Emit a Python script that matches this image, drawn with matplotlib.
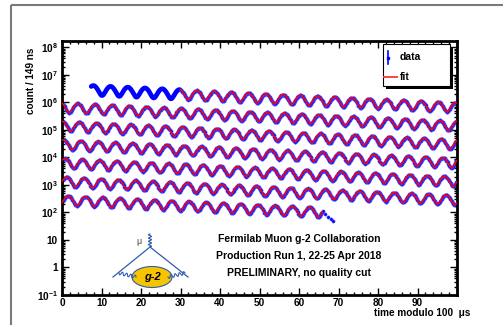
import numpy as np
import matplotlib
matplotlib.use('Agg')
import matplotlib.pyplot as plt
from matplotlib.patches import Rectangle, Ellipse
from matplotlib.ticker import FixedLocator, MultipleLocator, FuncFormatter

plt.rcParams['font.family'] = ['Liberation Sans', 'DejaVu Sans']
plt.rcParams['font.weight'] = 'bold'
plt.rcParams['mathtext.fontset'] = 'custom'
plt.rcParams['mathtext.rm'] = 'Liberation Sans:bold'
plt.rcParams['mathtext.bf'] = 'Liberation Sans:bold'
plt.rcParams['mathtext.default'] = 'rm'

# values (5-parameter wiggle fit)
bin_width = 0.149      # us
wrap = 100.0           # us
data_start = 7.4
fit_start = 30.0
fit_end = 666.0
n0 = 3.34e6
tau = 64.4
asym = 0.38
period = 4.365
phase = 0.18           # fraction of a turn
# last few bins, where the data falls away
tail_t = [666.6, 667.3, 668.0, 668.7]
tail_counts = [85.0, 70.0, 58.0, 48.0]

x_ticks = [0, 10, 20, 30, 40, 50, 60, 70, 80, 90]
y_decades = [-1, 0, 1, 2, 3, 4, 5, 6, 7, 8]


def wiggle(t):
    return n0 * np.exp(-t / tau) * (1 + asym * np.cos(2 * np.pi * (t / period + phase)))


t_data = np.arange(data_start, fit_end, bin_width)
c_data = wiggle(t_data)
t_data = np.concatenate([t_data, tail_t])
c_data = np.concatenate([c_data, tail_counts])
t_fit = np.arange(fit_start, fit_end, 0.05)
c_fit = wiggle(t_fit)

W, H = 503, 325
fig = plt.figure(figsize=(W / 100, H / 100), dpi=100)
ax = fig.add_axes([62 / W, 1 - 295 / H, (457 - 62) / W, (295 - 41) / H])

n_rows = int(np.ceil(t_data.max() / wrap))
for k in range(n_rows):
    m = (t_data >= k * wrap) & (t_data < (k + 1) * wrap)
    x = t_data[m] - k * wrap
    y = c_data[m]
    pre = (t_data[m] < fit_start)
    if pre.any():
        ax.plot(x[pre], y[pre], color='#0000ff', lw=3.4, solid_capstyle='round', zorder=2)
    ax.plot(x[~pre], y[~pre], 'o', ms=2.3, color='#0000ff', mec='#5050ff', mew=0.4, zorder=2)
    mf = (t_fit >= k * wrap) & (t_fit < (k + 1) * wrap)
    ax.plot(t_fit[mf] - k * wrap, c_fit[mf], color='#ff0000', lw=1.1, zorder=3)

ax.set_xlim(0, 100)
ax.set_yscale('log')
ax.set_ylim(0.1, 1.7e8)

ax.xaxis.set_major_locator(FixedLocator(x_ticks + [100]))
ax.xaxis.set_minor_locator(MultipleLocator(2))
ax.xaxis.set_major_formatter(FuncFormatter(lambda v, p: '' if v >= 100 else '%d' % v))


def ylab(v, p):
    e = int(round(np.log10(v)))
    if e == 0:
        return '1'
    if e == 1:
        return '10'
    return r'$10^{%d}$' % e


ax.yaxis.set_major_locator(FixedLocator([10.0 ** e for e in y_decades]))
ax.yaxis.set_minor_locator(matplotlib.ticker.LogLocator(base=10, subs=np.arange(2, 10), numticks=30))
ax.yaxis.set_major_formatter(FuncFormatter(ylab))
ax.yaxis.set_minor_formatter(FuncFormatter(lambda v, p: ''))

ax.tick_params(which='both', direction='in', top=True, right=True, width=1.0, labelsize=7.2)
ax.tick_params(which='major', length=5)
ax.tick_params(which='minor', length=2.5)
ax.tick_params(axis='x', pad=2)
ax.tick_params(axis='y', pad=3)
for s in ax.spines.values():
    s.set_linewidth(2.0)

# overlay in pixel coordinates for frame, legend, text and logo
ov = fig.add_axes([0, 0, 1, 1], zorder=5)
ov.set_xlim(0, W)
ov.set_ylim(H, 0)
ov.axis('off')
ov.patch.set_alpha(0)

ov.add_patch(Rectangle((11, 5), 700, 500, fill=False, edgecolor='#7a7a7a', lw=1.5))

# legend
ov.add_patch(Rectangle((386, 47), 67, 42, facecolor='black', edgecolor='none'))
ov.add_patch(Rectangle((383, 44), 67, 42, facecolor='white', edgecolor='black', lw=0.8))
ov.plot([388, 388], [51, 64], color='#0000ff', lw=1.2)
ov.plot([388], [57.5], 's', ms=1.5, color='#0000ff')
ov.plot([384, 397], [77, 77], color='#ff4040', lw=1.4)
ov.text(400, 57.5, 'data', fontsize=7.5, ha='left', va='center')
ov.text(400, 77, 'fit', fontsize=7.5, ha='left', va='center')

# axis titles
ov.text(31, 48, 'count / 149 ns', rotation=90, fontsize=7.2, ha='center', va='top')
ov.text(470, 313, 'time modulo 100  μs', fontsize=7.2, ha='right', va='center')

# caption
for yy, s in zip([239, 256, 273], ['Fermilab Muon g-2 Collaboration',
                                   'Production Run 1, 22-25 Apr 2018',
                                   'PRELIMINARY, no quality cut']):
    ov.text(299, yy, s, fontsize=7.5, ha='center', va='center')

# g-2 logo
blue = '#2f5cae'


def wavy(x0, y0, x1, y1, n=5, amp=1.6):
    s = np.linspace(0, 1, 80)
    dx, dy = x1 - x0, y1 - y0
    L = np.hypot(dx, dy)
    nx, ny = -dy / L, dx / L
    w = amp * np.sin(2 * np.pi * n * s)
    ov.plot(x0 + dx * s + nx * w, y0 + dy * s + ny * w, color=blue, lw=0.8)


ov.plot([113, 150, 188], [277, 247, 277], color=blue, lw=0.9)
wavy(150, 247, 150, 234, n=4, amp=1.5)
wavy(119, 273, 136, 277, n=4, amp=1.6)
wavy(168, 277, 185, 273, n=4, amp=1.6)
ov.add_patch(Ellipse((152, 277), 40, 21, facecolor='#f6c400', edgecolor=blue, lw=0.8))
ov.text(152, 277, 'g-2', fontsize=8, style='italic', ha='center', va='center')
ov.text(139, 242, 'μ', fontsize=6.5, fontweight='normal', color='#444444', ha='center', va='center')

fig.savefig('out.png', dpi=100)
